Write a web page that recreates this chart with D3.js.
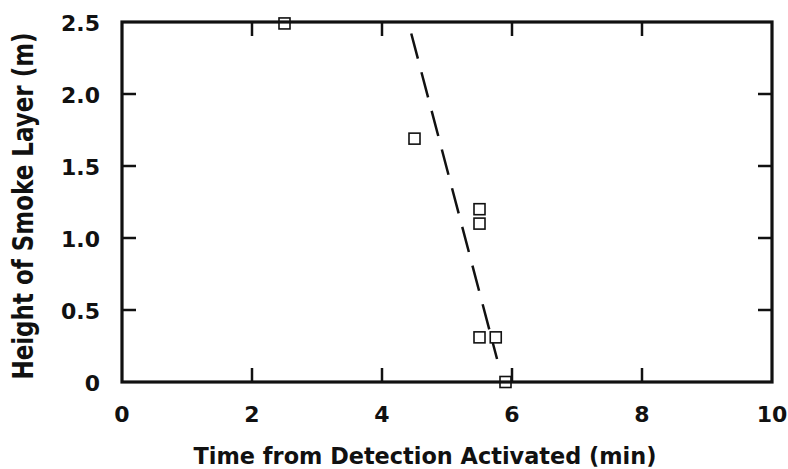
<!DOCTYPE html>
<html>
<head>
<meta charset="utf-8">
<script src="https://cdn.jsdelivr.net/npm/d3@7"></script>
<style>
  body { margin: 0; background: #fff; }
  text { font-family: "DejaVu Sans", sans-serif; font-weight: bold; fill: #111; }
</style>
</head>
<body>
<script>
// Width and height
var w = 788;
var h = 469;
var margin = { top: 22, right: 16, bottom: 87, left: 122 };

// Measured points
var timeMin = [2.5, 4.5, 5.5, 5.5, 5.5, 5.75, 5.9];
var heightM = [2.49, 1.69, 1.2, 1.1, 0.31, 0.31, 0.0];

// Dashed fit line end points
var fitX = [4.45, 5.77];
var fitY = [2.42, 0.16];

var xTicks = [0, 2, 4, 6, 8, 10];
var yTicks = [0, 0.5, 1.0, 1.5, 2.0, 2.5];
var yTickLabels = ["0", "0.5", "1.0", "1.5", "2.0", "2.5"];

var svg = d3.select("body")
  .append("svg")
  .attr("width", w)
  .attr("height", h);

var xScale = d3.scaleLinear()
  .domain([0, 10])
  .range([margin.left, w - margin.right]);

var yScale = d3.scaleLinear()
  .domain([0, 2.5])
  .range([h - margin.bottom, margin.top]);

var x0 = xScale(0), x1 = xScale(10), y0 = yScale(0), y1 = yScale(2.5);
var tickLen = 14;

// frame
svg.append("rect")
  .attr("x", x0)
  .attr("y", y1)
  .attr("width", x1 - x0)
  .attr("height", y0 - y1)
  .attr("fill", "none")
  .attr("stroke", "#111")
  .attr("stroke-width", 3.2);

// inward ticks, all four sides
var inner = xTicks.slice(1, -1);
svg.selectAll(".xtb").data(inner).enter().append("line")
  .attr("x1", function(d) { return xScale(d); })
  .attr("x2", function(d) { return xScale(d); })
  .attr("y1", y0).attr("y2", y0 - tickLen)
  .attr("stroke", "#111").attr("stroke-width", 2.5);
svg.selectAll(".xtt").data(inner).enter().append("line")
  .attr("x1", function(d) { return xScale(d); })
  .attr("x2", function(d) { return xScale(d); })
  .attr("y1", y1).attr("y2", y1 + tickLen)
  .attr("stroke", "#111").attr("stroke-width", 2.5);

var innerY = yTicks.slice(1, -1);
svg.selectAll(".ytl").data(innerY).enter().append("line")
  .attr("y1", function(d) { return yScale(d); })
  .attr("y2", function(d) { return yScale(d); })
  .attr("x1", x0).attr("x2", x0 + tickLen)
  .attr("stroke", "#111").attr("stroke-width", 2.5);
svg.selectAll(".ytr").data(innerY).enter().append("line")
  .attr("y1", function(d) { return yScale(d); })
  .attr("y2", function(d) { return yScale(d); })
  .attr("x1", x1).attr("x2", x1 - tickLen)
  .attr("stroke", "#111").attr("stroke-width", 2.5);

// tick labels
svg.selectAll(".xl").data(xTicks).enter().append("text")
  .attr("x", function(d) { return xScale(d); })
  .attr("y", y0 + 40)
  .attr("text-anchor", "middle")
  .style("font-size", "22px")
  .text(function(d) { return d; });

svg.selectAll(".yl").data(yTicks).enter().append("text")
  .attr("x", x0 - 22)
  .attr("y", function(d) { return yScale(d) + 9; })
  .attr("text-anchor", "end")
  .style("font-size", "22px")
  .text(function(d, i) { return yTickLabels[i]; });

// axis titles
svg.append("text")
  .attr("x", 425)
  .attr("y", 464)
  .attr("text-anchor", "middle")
  .style("font-size", "22.4px")
  .text("Time from Detection Activated (min)");

svg.append("text")
  .attr("transform", "translate(33,206) rotate(-90) scale(1,1.2)")
  .attr("text-anchor", "middle")
  .style("font-size", "23px")
  .text("Height of Smoke Layer (m)");

// dashed fit line
var line = d3.line()
  .x(function(d) { return xScale(d[0]); })
  .y(function(d) { return yScale(d[1]); });

svg.append("path")
  .datum(d3.zip(fitX, fitY))
  .attr("d", line)
  .attr("fill", "none")
  .attr("stroke", "#111")
  .attr("stroke-width", 2.5)
  .attr("stroke-dasharray", "26,14");

// square markers
var s = 11;
svg.selectAll(".pt").data(d3.zip(timeMin, heightM)).enter().append("rect")
  .attr("x", function(d) { return xScale(d[0]) - s / 2; })
  .attr("y", function(d) { return yScale(d[1]) - s / 2; })
  .attr("width", s)
  .attr("height", s)
  .attr("fill", "none")
  .attr("stroke", "#111")
  .attr("stroke-width", 1.6);
</script>
</body>
</html>
